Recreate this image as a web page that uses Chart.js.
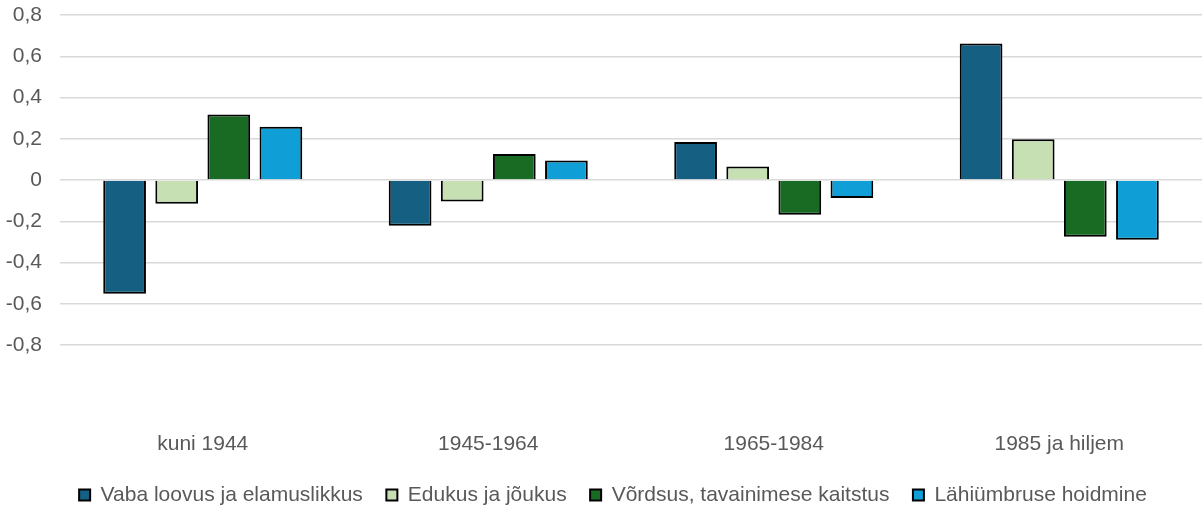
<!DOCTYPE html>
<html>
<head>
<meta charset="utf-8">
<title>Väärtused sünniaastate järgi</title>
<script src="https://cdn.jsdelivr.net/npm/chart.js@4"></script>
<style>
  body { margin: 0; background: #fff; }
</style>
</head>
<body>
<canvas id="chart" width="1202" height="508"></canvas>
<script>
// Data
const categories = ["kuni 1944", "1945-1964", "1965-1984", "1985 ja hiljem"];
const vabaLoovus = [-0.552, -0.222, 0.184, 0.662];
const edukus = [-0.115, -0.104, 0.066, 0.198];
const vordsus = [0.318, 0.126, -0.168, -0.275];
const lahiymbrus = [0.258, 0.095, -0.087, -0.290];
const yTicks = [-0.8, -0.6, -0.4, -0.2, 0, 0.2, 0.4, 0.6, 0.8];

const textColor = "#595959";
const fontFamily = "'Liberation Sans', Arial, sans-serif";

function series(label, data, color) {
  return {
    label: label,
    data: data,
    backgroundColor: color,
    borderColor: "#000",
    borderWidth: 2,
    categoryPercentage: 0.73,
    barPercentage: 0.82,
  };
}

// legend in the original sits a bit right of centre
const legendShift = {
  id: "legendShift",
  afterLayout(chart) {
    chart.legend.left += 10;
    chart.legend.right += 10;
    chart.legend.top += 2;
    chart.legend.bottom += 2;
  },
};

const ctx = document.getElementById("chart").getContext("2d");
const chart = new Chart(ctx, {
  type: "bar",
  data: {
    labels: categories,
    datasets: [
      series("Vaba loovus ja elamuslikkus", vabaLoovus, "#156082"),
      series("Edukus ja jõukus", edukus, "#C6E0B4"),
      series("Võrdsus, tavainimese kaitstus", vordsus, "#196B24"),
      series("Lähiümbruse hoidmine", lahiymbrus, "#0F9ED5"),
    ],
  },
  plugins: [legendShift],
  options: {
    responsive: false,
    animation: false,
    layout: {
      autoPadding: false,
      padding: { top: 0, left: 4, right: 0, bottom: 0 },
    },
    plugins: {
      tooltip: { enabled: false },
      legend: {
        position: "bottom",
        maxHeight: 49,
        labels: {
          boxWidth: 11,
          boxHeight: 11,
          padding: 23.5,
          color: textColor,
          font: { family: fontFamily, size: 21 },
        },
      },
    },
    scales: {
      x: {
        afterFit: (scale) => {
          scale.height = 114;
          scale.paddingLeft = 0;
          scale.paddingRight = 0;
        },
        grid: { display: false, drawTicks: false },
        border: { display: false },
        ticks: {
          padding: 87,
          color: textColor,
          font: { family: fontFamily, size: 21 },
        },
      },
      y: {
        min: -0.8,
        max: 0.8,
        afterFit: (scale) => {
          scale.width = 56;
          scale.paddingTop = 15;
        },
        afterBuildTicks: (scale) => {
          scale.ticks = yTicks.map((v) => ({ value: v }));
        },
        grid: { color: "#d9d9d9", lineWidth: 1.5, drawTicks: false },
        border: { display: false },
        ticks: {
          padding: 18,
          color: textColor,
          font: { family: fontFamily, size: 21 },
          callback: (v) => {
            const r = Math.round(v * 10) / 10;
            return r === 0 ? "0" : String(r).replace(".", ",");
          },
        },
      },
    },
  },
});
</script>
</body>
</html>
